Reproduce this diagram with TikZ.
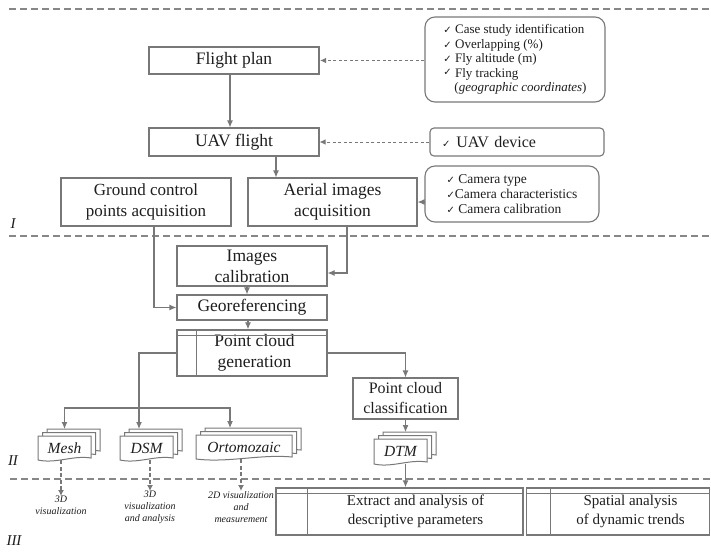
\documentclass[tikz,border=0pt]{standalone}
\usepackage{fontspec}
\setmainfont{Liberation Serif}
\newfontfamily\symf{DejaVu Sans}
\usetikzlibrary{arrows.meta,calc}
\definecolor{lc}{RGB}{120,120,120}
\definecolor{tc}{RGB}{30,30,30}
\definecolor{sepc}{RGB}{135,135,135}
\newcommand\chk{{\symf\fontsize{10}{10}\selectfont ✓}}
\newcommand\docstack[6]{%
  \pgfmathsetmacro\dsL{#2-#4/2}%
  \pgfmathsetmacro\dsR{#2+#4/2}%
  \pgfmathsetmacro\dsT{#3-#5/2}%
  \pgfmathsetmacro\dsB{#3+#5/2}%
  \pgfmathsetmacro\dsW{#4/3}%
  \foreach \k in {9,4.5,0}{%
    \draw[docline] ({\dsL+\k},{\dsT-\k*7/9}) -- ({\dsR+\k},{\dsT-\k*7/9}) -- ({\dsR+\k},{\dsB-2-\k*7/9}) .. controls ({\dsR-\dsW+\k},{\dsB-5-\k*7/9}) and ({\dsL+\dsW+\k},{\dsB+4-\k*7/9}) .. ({\dsL+\k},{\dsB-\k*7/9}) -- cycle;
  }%
  \node[docnode, minimum width=#4pt, minimum height=#5pt] (#1) at (#2,#3) {#6};
  \coordinate (#1-top) at (#2,\dsT-7);
}
\begin{document}
\begin{tikzpicture}[x=1pt,y=-1pt,
  box/.style={draw=lc, line width=1.1pt, inner sep=0pt, align=center, text=tc, font=\fontsize{17.5}{21}\selectfont},
  rbox/.style={box, rounded corners=10pt, font=\fontsize{13}{14.6}\selectfont, align=left},
  arr/.style={draw=lc, line width=1.1pt, -{Latex[length=7pt,width=6pt]}},
  darr/.style={draw=lc, line width=0.9pt, dash pattern=on 3pt off 2.5pt, -{Latex[length=6pt,width=5.5pt]}},
  ddarr/.style={draw=lc, line width=1.3pt, dash pattern=on 4pt off 2.5pt, -{Latex[length=6pt,width=6pt]}},
  sepline/.style={draw=sepc, line width=1.6pt, dash pattern=on 7pt off 4pt},
  ln/.style={draw=lc, line width=1.1pt},
  lab/.style={font=\fontsize{10}{12}\selectfont\itshape, text=tc, align=center, inner sep=0pt},
  roman/.style={font=\fontsize{15}{15}\selectfont\itshape, text=tc, inner sep=0pt},
  docline/.style={draw=lc, line width=1pt, fill=white},
  docnode/.style={inner sep=0pt, font=\fontsize{15.5}{16}\selectfont\itshape, text=tc}
]
\useasboundingbox[fill=white] (0,0) rectangle (711,552);

% separators
\draw[sepline] (9,9) -- (711,9);
\draw[sepline] (9,236) -- (711,236);
\draw[sepline] (10,479) -- (711,479);
\node[roman] (r1) at (13,224) {I};
\node[roman] (r2) at (13,461) {II};
\node[roman] (r3) at (14,541) {III};

% part I
\node[box, line width=2.2pt, minimum width=170pt, minimum height=27pt] (fp) at (234,60.5) {Flight plan};
\node[rbox, minimum width=180pt, minimum height=85pt] (plan) at (515,59.5) {\chk\ Case study identification\\
\chk\ Overlapping (\%)\\
\chk\ Fly altitude (m)\\
\raisebox{2pt}{\chk}\ Fly tracking\\
\hspace*{11pt}(\textit{geographic coordinates})};
\node[box, minimum width=170pt, minimum height=28pt] (uav) at (234,142) {UAV flight};
\node[box, rounded corners=4pt, text width=150pt, inner xsep=12pt, minimum height=28pt, align=left, font=\fontsize{16}{19}\selectfont] (dev) at (517,142) {\chk\hspace{6pt}UAV device};
\node[box, minimum width=170pt, minimum height=48pt, font=\fontsize{17}{21}\selectfont] (gcp) at (146,202) {Ground control\\points acquisition};
\node[box, minimum width=169pt, minimum height=48pt] (aer) at (332.5,202) {Aerial images\\acquisition};
\node[rbox, minimum width=174pt, minimum height=56pt, font=\fontsize{13.5}{15}\selectfont] (cam) at (512,194) {\chk\ Camera type\\\chk Camera characteristics\\\chk\ Camera calibration};

\draw[darr] (plan.west |- fp.east) -- (fp.east);
\draw[arr] ([xshift=-4pt]fp.south) -- ([xshift=-4pt]uav.north);
\draw[darr] (dev.west |- uav.east) -- (uav.east);
\draw[arr] ([xshift=42pt]uav.south) -- ([xshift=42pt]uav.south |- aer.north);
\draw[arr] (cam.west |- aer.east) -- (aer.east);

% part II
\node[box, minimum width=150pt, minimum height=40pt] (ical) at (252,266) {Images\\calibration};
\node[box, minimum width=150pt, minimum height=25pt] (geo) at (252,307.5) {Georeferencing};
\node[box, line width=1.4pt, minimum width=150pt, minimum height=46pt] (pcg) at (252,353) {\hspace*{5pt}Point cloud\\\hspace*{5pt}generation};
\draw[ln] ([xshift=20pt]pcg.north west) -- ([xshift=20pt]pcg.south west);
\draw[ln] ([yshift=-6pt]pcg.north west) -- ([yshift=-6pt]pcg.north east);
\node[box, minimum width=105pt, minimum height=41pt, font=\fontsize{16}{20}\selectfont] (pcc) at (405.5,398.5) {Point cloud\\classification};

\draw[arr] ([xshift=14.5pt]aer.south) |- ([yshift=-7pt]ical.east);
\draw[arr] ([xshift=8pt]gcp.south) |- (geo.west);
\draw[arr] ([xshift=-5pt]ical.south) -- ([xshift=-5pt]geo.north);
\draw[arr] ([xshift=-4pt]geo.south) -- ([xshift=-4pt]pcg.north);

\docstack{mesh}{64.5}{448}{53}{24}{Mesh}
\docstack{dsm}{146.5}{448}{53}{24}{DSM}
\docstack{orto}{244}{447}{96}{24}{Ortomozaic}
\docstack{dtm}{400.5}{451.5}{53}{25}{DTM}

\coordinate (br) at (139,408);
\draw[ln] (pcg.west) -| (br);
\draw[arr] (br) -- (br |- dsm-top);
\draw[arr] (br) -| (mesh-top);
\draw[arr] (br) -| ([xshift=-14pt]orto-top);
\draw[arr] (pcg.east) -| (pcc.north);
\draw[arr] (pcc.south) -- (pcc.south |- dtm-top);

% part III
\node[lab, anchor=north] (t1) at (61,496) {3D\\visualization};
\node[lab, anchor=north] (t2) at (150,491) {3D\\visualization\\and analysis};
\node[lab, anchor=north] (t3) at (241,491) {2D visualization\\and\\measurement};
\draw[ddarr] (t1.north |- mesh.south) -- (t1.north);
\draw[ddarr] (t2.north |- dsm.south) -- (t2.north);
\draw[ddarr] (t3.north |- orto.south) -- (t3.north);

\node[box, line width=1.5pt, minimum width=247pt, minimum height=47pt, font=\fontsize{15}{19.5}\selectfont] (ext) at (399.5,511.5) {\hspace*{32pt}Extract and analysis of\\\hspace*{32pt}descriptive parameters};
\draw[ln] ([xshift=32pt]ext.north west) -- ([xshift=32pt]ext.south west);
\draw[ln] ([yshift=-6pt]ext.north west) -- ([yshift=-6pt]ext.north east);
\node[box, line width=1.5pt, minimum width=183pt, minimum height=47pt, font=\fontsize{15}{19.5}\selectfont] (spa) at (618,511.5) {\hspace*{25pt}Spatial analysis\\\hspace*{25pt}of dynamic trends};
\draw[ln] ([xshift=25pt]spa.north west) -- ([xshift=25pt]spa.south west);
\draw[ln] ([yshift=-6pt]spa.north west) -- ([yshift=-6pt]spa.north east);

\draw[arr] (pcc.south |- dtm.south) -- (pcc.south |- ext.north);
\end{tikzpicture}
\end{document}
